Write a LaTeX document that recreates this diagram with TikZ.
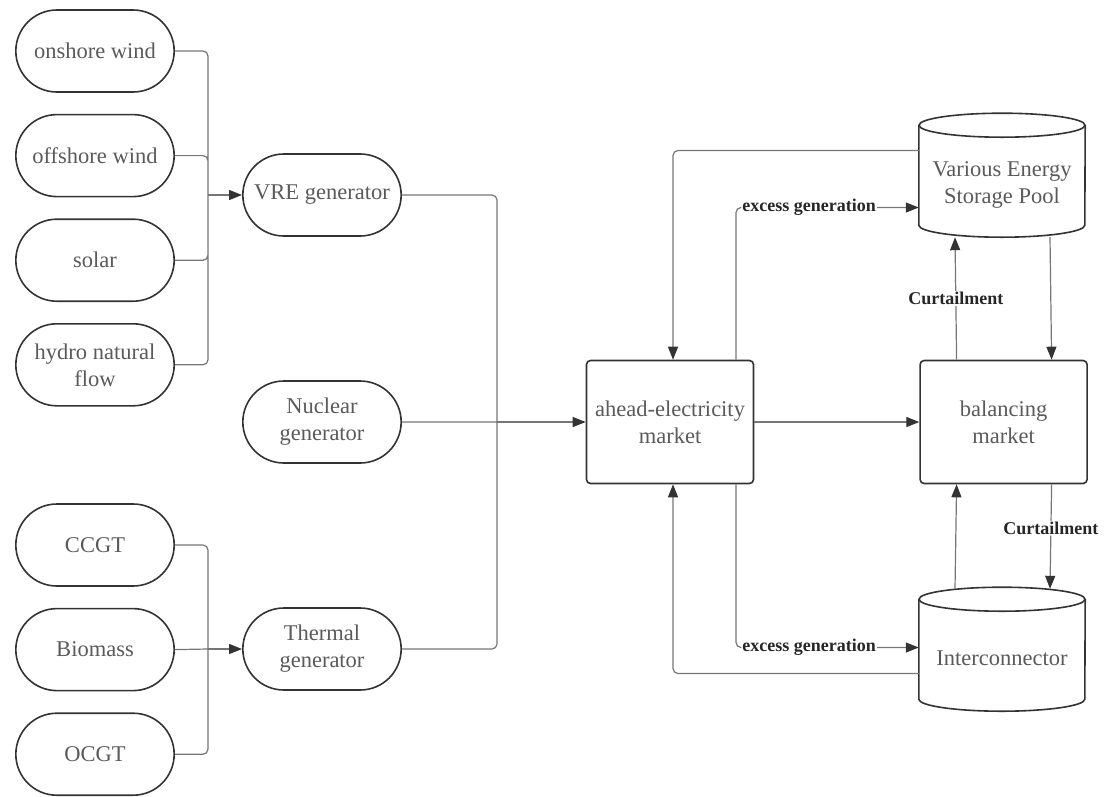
\documentclass[tikz,border=0pt]{standalone}
\usepackage{fontspec}
\setmainfont{Liberation Serif}
\usetikzlibrary{positioning, shapes.misc, arrows.meta}
\definecolor{linegray}{HTML}{767676}
\definecolor{textgray}{HTML}{5A5A5A}
\tikzset{
every node/.style={font=\fontsize{22.5}{27}\selectfont}, % text size of all boxes
pill/.style={rounded rectangle, draw=black!80, line width=1.6pt, minimum width=165pt, minimum height=82pt, text=textgray, align=center}, % sources and generators
market/.style={rectangle, rounded corners=4pt, draw=black!80, line width=1.6pt, minimum width=167pt, minimum height=123pt, text=textgray, align=center}, % the two markets
pool/.style={rectangle, minimum width=166pt, minimum height=105pt, text=textgray, align=center}, % text part of a drum, outline drawn below
drum/.style={draw=black!80, line width=1.6pt},
link/.style={draw=linegray, line width=1.2pt, rounded corners=5pt},
flow/.style={link, -{Triangle[length=13pt,width=10pt,color=black!80]}},
lbl/.style={font=\fontsize{18}{20}\selectfont\bfseries, text=black!85, fill=white, inner sep=1pt}, % edge labels
}

\begin{document}
\begin{tikzpicture}[x=1pt, y=-1pt]
    \useasboundingbox (0,0) rectangle (1105,796);

    % sources
    \node[pill] (onshore) at (95,51) {onshore wind};
    \node[pill, below=21pt of onshore] (offshore) {offshore wind};
    \node[pill, below=21pt of offshore] (solar) {solar};
    \node[pill, below=21pt of solar] (hydro) {hydro natural\\flow};
    \node[pill] (ccgt) at (95,545) {CCGT};
    \node[pill, below=21pt of ccgt] (biomass) {Biomass};
    \node[pill, below=21pt of biomass] (ocgt) {OCGT};

    % generators
    \node[pill] (vre) at (322,195) {VRE generator};
    \node[pill] (nuclear) at (322,422) {Nuclear\\generator};
    \node[pill] (thermal) at (322,649) {Thermal\\generator};

    % markets
    \node[market] (ahead) at (670,422) {ahead-electricity\\market};
    \node[market, right=165pt of ahead] (balancing) {balancing\\market};
    \node[pool] (storage) at (1002,184.5) {Various Energy\\Storage Pool};
    \node[pool] (inter) at (1002,658.5) {Interconnector};

    % drum outlines
    \foreach \p in {storage, inter} {
        \draw[drum] ([yshift=112pt]\p.south west) -- ([yshift=12pt]\p.south west)
            arc[start angle=180, end angle=360, x radius=83pt, y radius=12pt]
            -- ([yshift=112pt]\p.south east);
        \draw[drum] ([yshift=112pt]\p.south) ellipse [x radius=83pt, y radius=12pt];
    }

    \coordinate (jv) at (208,195);
    \coordinate (jt) at (208,649);
    \coordinate (jm) at (497,422);

    \draw[link] (onshore.east) -| (jv)
          (offshore.east) -| (jv)
          (solar.east) -| (jv)
          (hydro.east) -| (jv);
    \draw[flow] (jv) -- (vre);

    \draw[link] (ccgt.east) -| (jt)
          (biomass.east) -- (jt)
          (ocgt.east) -| (jt);
    \draw[flow] (jt) -- (thermal);

    \draw[link] (vre.east) -| (jm)
          (nuclear.east) -- (jm)
          (thermal.east) -| (jm);
    \draw[flow] (jm) -- (ahead);

    \draw[flow] (ahead) -- (balancing);
    \draw[flow] ([yshift=34pt]storage.west) -| ([xshift=3pt]ahead.north);
    \draw[flow] ([xshift=66pt]ahead.north) |- node[lbl, pos=0.7]{excess generation} ([yshift=-23pt]storage.west);
    \draw[flow] ([xshift=-47pt]balancing.north) -- node[lbl]{Curtailment} ([xshift=-47pt]storage.south);
    \draw[flow] ([xshift=48pt]storage.south) -- ([xshift=48pt]balancing.north);
    \draw[flow] ([xshift=-47pt,yshift=17pt]inter.north) -- ([xshift=-47pt]balancing.south);
    \draw[flow] ([xshift=48pt]balancing.south) -- node[lbl, pos=0.42]{Curtailment} ([xshift=48pt,yshift=17pt]inter.north);
    \draw[flow] ([xshift=66pt]ahead.south) |- node[lbl, pos=0.7]{excess generation} ([yshift=11pt]inter.west);
    \draw[flow] ([yshift=-15pt]inter.west) -| ([xshift=3pt]ahead.south);
\end{tikzpicture}
\end{document}
